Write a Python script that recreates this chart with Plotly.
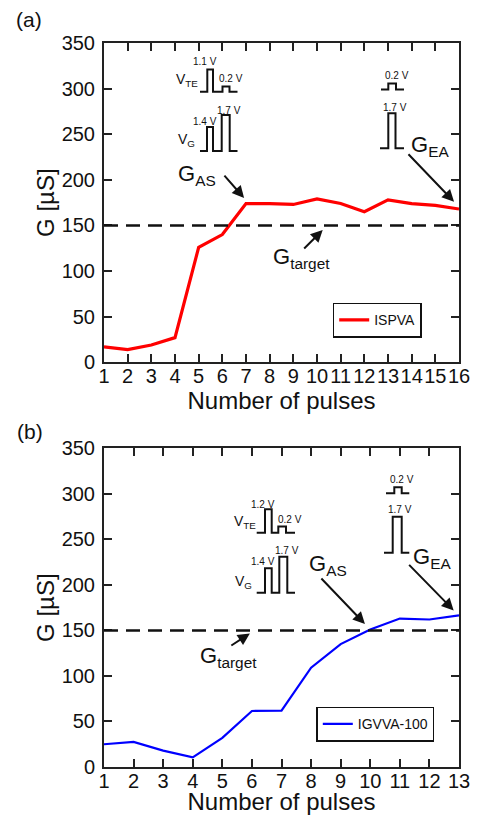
import plotly.graph_objects as go
from plotly.subplots import make_subplots

# ---------------- data ----------------
pulses_a = list(range(1, 17))
g_ispva = [17, 14, 19, 27, 126, 140, 174, 174, 173, 179, 174, 165, 178, 174, 172, 168]
pulses_b = list(range(1, 14))
g_igvva = [25, 27.5, 18, 10.5, 32, 61.5, 62, 109, 135, 151, 163, 162, 166.5]
g_target = 150
y_ticks = [0, 50, 100, 150, 200, 250, 300, 350]

FONT = "Liberation Sans, Arial, sans-serif"
OFF = 8  # page body margin offset
W, H = 479 - OFF, 815 - OFF
ML, MR, MT, MB = 104 - OFF, 20, 43 - OFF, 48
PW, PH = W - ML - MR, H - MT - MB


def P(xp, yp):
    """page pixel -> paper coords"""
    return (xp - OFF - ML) / PW, (H - MB - (yp - OFF)) / PH


fig = make_subplots(rows=2, cols=1, vertical_spacing=0.1188)
fig.update_layout(
    yaxis=dict(domain=[0.559, 1.0]),
    yaxis2=dict(domain=[0.0, 0.4402]),
)

fig.add_trace(go.Scatter(x=pulses_a, y=g_ispva, mode="lines", name="ISPVA",
                         line=dict(color="#ff0000", width=3.2), legend="legend",
                         showlegend=True), row=1, col=1)
fig.add_trace(go.Scatter(x=pulses_b, y=g_igvva, mode="lines", name="IGVVA-100",
                         line=dict(color="#0000ff", width=2.2), legend="legend2",
                         showlegend=True), row=2, col=1)

axis_common = dict(showline=True, linewidth=2, linecolor="#222", mirror="ticks",
                   ticks="inside", ticklen=8, tickwidth=1.5, tickcolor="#222",
                   showgrid=False, zeroline=False, automargin=False,
                   tickfont=dict(family=FONT, size=20, color="#111"))

for r, n in ((1, 16), (2, 13)):
    fig.update_xaxes(range=[1, n], tick0=1, dtick=1, ticklabelstandoff=-5, tickangle=0,
                     title=dict(text="Number of pulses", standoff=1,
                                font=dict(family=FONT, size=24, color="#111")),
                     row=r, col=1, **axis_common)
    fig.update_yaxes(range=[0, 350], tickvals=y_ticks, ticklabelstandoff=3,
                     title=dict(text="G [µS]", standoff=0,
                                font=dict(family=FONT, size=24, color="#111")),
                     row=r, col=1, **axis_common)

shapes = []
# target lines
for xr, yr in (("x", "y"), ("x2", "y2")):
    shapes.append(dict(type="line", xref=f"{xr} domain", yref=yr, x0=0, x1=1,
                       y0=g_target, y1=g_target,
                       line=dict(color="#111", width=2.5, dash="14px,8px")))


def pulse_path(pts):
    s = ""
    for i, (xp, yp) in enumerate(pts):
        px, py = P(xp, yp)
        s += ("M" if i == 0 else "L") + f"{px:.5f},{py:.5f} "
    return s.strip()


def two_pulse(x0, xr1, xf1, xr2, xf2, x1, base, top1, top2):
    return [(x0, base), (xr1, base), (xr1, top1), (xf1, top1), (xf1, base),
            (xr2, base), (xr2, top2), (xf2, top2), (xf2, base), (x1, base)]


def one_pulse(x0, xr, xf, x1, base, top):
    return [(x0, base), (xr, base), (xr, top), (xf, top), (xf, base), (x1, base)]


icons = [
    two_pulse(200, 207.3, 213, 222.5, 229.5, 237.5, 91.8, 69.5, 86.5),
    two_pulse(200, 207, 213, 221.7, 229.7, 237.5, 151, 127, 115),
    one_pulse(381, 388.3, 396, 404, 89.5, 83.5),
    one_pulse(380, 388.3, 395.5, 404, 148.3, 113.3),
    two_pulse(256.7, 265, 271.7, 278.3, 286, 295, 532.7, 509.3, 526.5),
    two_pulse(256.7, 265, 271.7, 279.3, 287.3, 295, 592.7, 568.3, 556.7),
    one_pulse(386, 394.3, 401.7, 409.3, 493.3, 487.3),
    one_pulse(384, 392.7, 401.7, 409.3, 552.7, 516.7),
]
for pts in icons:
    shapes.append(dict(type="path", xref="paper", yref="paper", path=pulse_path(pts),
                       line=dict(color="#111", width=2)))

fig.update_layout(shapes=shapes)

ann = []


def txt(text, xp, yp, size, xanchor="center"):
    x, y = P(xp, yp)
    ann.append(dict(text=text, x=x, y=y, xref="paper", yref="paper", showarrow=False,
                    xanchor=xanchor, yanchor="middle",
                    font=dict(family=FONT, size=size, color="#111")))


# panel labels
txt("(a)", 29, 20, 21)
txt("(b)", 30, 432, 21)

# voltage labels (a)
txt("1.1 V", 205, 62, 10)
txt("0.2 V", 231, 78, 10)
txt("1.4 V", 205, 121, 10)
txt("1.7 V", 229, 110, 10)
txt("V<sub>TE</sub>", 187, 80, 14)
txt("V<sub>G</sub>", 186, 140, 14)
txt("0.2 V", 396.5, 76, 10)
txt("1.7 V", 395, 107, 10)
# voltage labels (b)
txt("1.2 V", 263.3, 504, 10)
txt("0.2 V", 290, 519, 10)
txt("V<sub>TE</sub>", 245, 522, 14)
txt("1.4 V", 263.3, 561.7, 10)
txt("1.7 V", 286.7, 550.7, 10)
txt("V<sub>G</sub>", 243, 582, 14)
txt("0.2 V", 401.7, 479.3, 10)
txt("1.7 V", 400, 509.3, 10)

# G labels
txt("G<sub>AS</sub>", 197, 175, 22)
txt("G<sub>EA</sub>", 430, 146, 22)
txt("G<sub>target</sub>", 301, 258, 22)
txt("G<sub>AS</sub>", 328, 565, 22)
txt("G<sub>EA</sub>", 431.5, 558, 22)
txt("G<sub>target</sub>", 228.5, 657, 22)


def arrow(xr, yr, x, y, ax, ay):
    ann.append(dict(text="", x=x, y=y, xref=xr, yref=yr, ax=ax, ay=ay,
                    showarrow=True, arrowhead=2, arrowsize=1.2, arrowwidth=2,
                    arrowcolor="#111", standoff=0))


arrow("x", "y", 6.92, 180, -21, -24)
arrow("x", "y", 15.79, 176, -47, -49)
arrow("x", "y", 10.24, 145, -20, 20)
arrow("x2", "y2", 9.82, 157, -45, -47)
arrow("x2", "y2", 12.82, 172, -46, -47)
arrow("x2", "y2", 5.93, 146.6, -20, 13)

fig.update_layout(annotations=ann)

legend_common = dict(bgcolor="white", bordercolor="#111", borderwidth=1.5,
                     font=dict(family=FONT, size=14, color="#111"),
                     xanchor="right", yanchor="top", itemwidth=30,
                     tracegroupgap=0, visible=True)
lx1, ly1 = P(421.7, 302.7)
lx2, ly2 = P(434.3, 706.7)
fig.update_layout(
    showlegend=True,
    legend=dict(x=lx1, y=ly1, **legend_common),
    legend2=dict(x=lx2, y=ly2, **legend_common),
)

fig.update_layout(width=W, height=H, margin=dict(l=ML, r=MR, t=MT, b=MB),
                  paper_bgcolor="white", plot_bgcolor="white",
                  font=dict(family=FONT, color="#111"))

fig.write_html("out.html")
